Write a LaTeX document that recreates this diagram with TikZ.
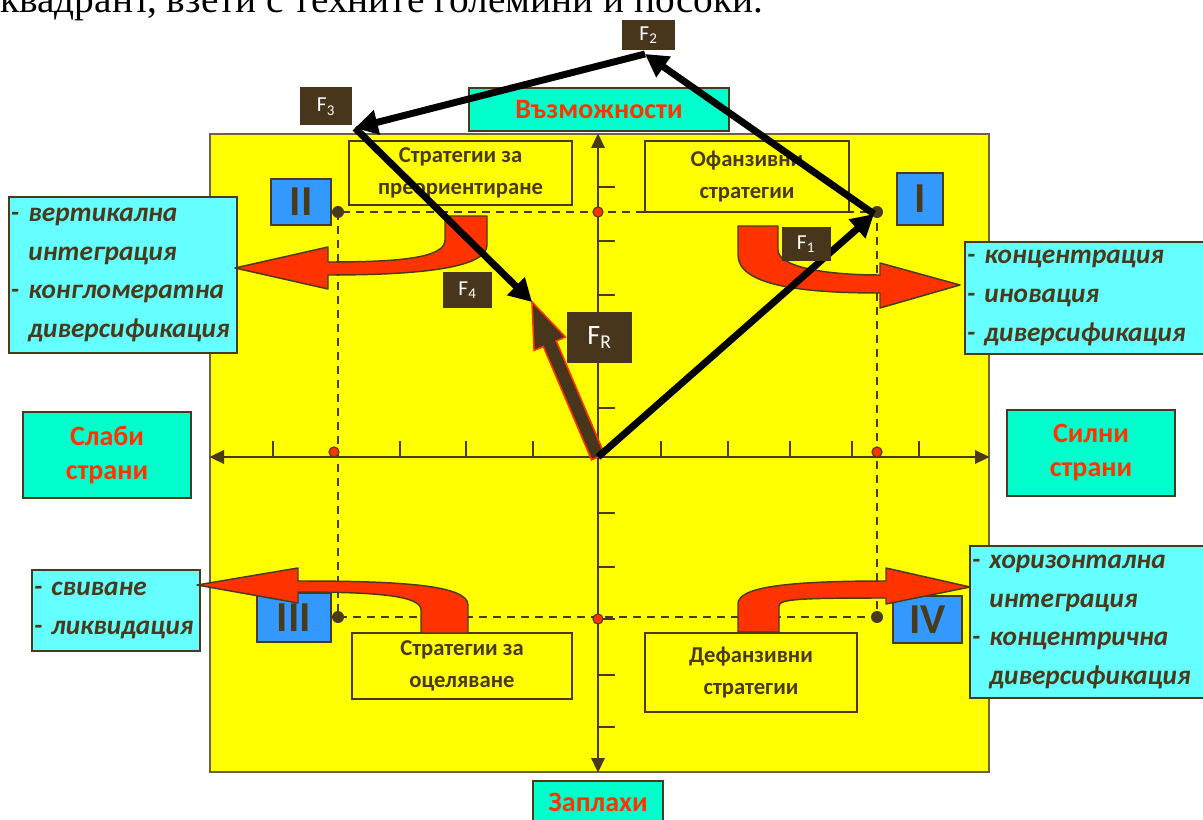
\documentclass[tikz,border=0pt]{standalone}
\usepackage{fontspec}
\setmainfont{Carlito}
\newfontfamily\introfont{Liberation Serif}
\usetikzlibrary{arrows.meta,calc}
\definecolor{ybrown}{HTML}{4A3A1C}
\definecolor{yfield}{HTML}{FFFF00}
\definecolor{aqua}{HTML}{00FFCC}
\definecolor{listcyan}{HTML}{66FFFF}
\definecolor{qblue}{HTML}{3399FF}
\definecolor{sred}{HTML}{FF3300}
\definecolor{fbox}{HTML}{47361C}
\begin{document}
\begin{tikzpicture}[x=0.75pt,y=-0.75pt,
		side/.style={draw=ybrown,fill=aqua,line width=1.5pt,text=sred,align=center,inner sep=0pt,font=\bfseries\fontsize{21}{25.5}\selectfont},
		strat/.style={draw=ybrown,fill=yfield,line width=1.2pt,text=ybrown,align=center,inner sep=0pt,font=\bfseries\fontsize{17}{24.5}\selectfont},
		quad/.style={draw=ybrown,fill=qblue,line width=1.2pt,text=ybrown,inner sep=0pt,font=\bfseries\fontsize{32}{32}\selectfont},
		listbox/.style={draw=ybrown,fill=listcyan,line width=1.5pt,text=ybrown,align=left,inner xsep=1.5pt,inner ysep=0pt,font=\bfseries\itshape\fontsize{20.5}{29}\selectfont},
		force/.style={fill=fbox,text=white,inner sep=0pt,font=\fontsize{16}{16}\selectfont},
		vec/.style={line width=5.2pt,-{Triangle[length=17pt,width=18pt]}},
		turnarrow/.style={fill=sred,draw=ybrown,line width=1.1pt,line join=round},
		axisline/.style={ybrown,line width=1.8pt,{Triangle[length=11pt,width=10pt]}-{Triangle[length=11pt,width=10pt]}},
		tickmark/.style={ybrown,line width=1.5pt},
		quadframe/.style={ybrown,line width=1.8pt,dash pattern=on 6pt off 4.5pt},
		hitdot/.style={fill=sred,draw=ybrown,line width=0.8pt},
		cornerdot/.style={fill=ybrown}]
	\useasboundingbox (0,0) rectangle (1203,820);
	\begin{scope}
		\clip (0,0) rectangle (1203,820);
		\node (intro) [anchor=base west,inner sep=0pt,font=\introfont\fontsize{29.5}{29.5}\selectfont] at (0,13) {квадрант, взети с техните големини и посоки.};
	\end{scope}

	\node (field) [draw=ybrown!80,fill=yfield,line width=1pt,minimum width=584.25pt,minimum height=478.5pt,inner sep=0pt] at (599.5,453) {};

	\coordinate (o) at (598,457);
	\coordinate (qi) at (877,212);
	\coordinate (qii) at (338,212);
	\coordinate (qiii) at (338,617);
	\coordinate (qiv) at (877,617);

	\node (prer) [strat,minimum width=167.25pt,minimum height=48pt] at (460.5,173) {Стратегии за\\преориентиране};
	\node (ofans) [strat,minimum width=153pt,minimum height=53.25pt] at (747,176.5) {Офанзивни\\стратегии};
	\node (surv) [strat,minimum width=165pt,minimum height=49.5pt] at (462,666) {Стратегии за\\оцеляване};
	\node (defs) [strat,minimum width=159pt,minimum height=59.25pt] at (751,672.5) {Дефанзивни\\стратегии};

	\draw[quadframe] (qii) rectangle (qiv);
	\draw[axisline] (field.west |- o) -- (field.east |- o);
	\draw[axisline] (field.north -| o) -- (field.south -| o);
	\foreach \tx in {273,400,466,533,661,728,790,852,919}
		\draw[tickmark] (\tx,457) -- (\tx,441);
	\foreach \ty in {187,241,295,349,408,513,567,619,675,727}
		\draw[tickmark] (598,\ty) -- (615,\ty);

	\foreach \dot in {(598,212),(598,619),(334,452),(877,452)}
		\draw[hitdot] \dot circle[radius=3.8pt];
	\foreach \dot in {qi,qii,qiii,qiv}
		\fill[cornerdot] (\dot) circle[radius=4.5pt];

	\node (qtwo) [quad,minimum width=45pt,minimum height=34.5pt] at (301,202) {II};
	\node (qone) [quad,minimum width=34.5pt,minimum height=39pt] at (920,199) {I};
	\node (qthree) [quad,minimum width=55.5pt,minimum height=36.75pt] at (294,617.5) {III};
	\node (qfour) [quad,minimum width=51.75pt,minimum height=35.25pt] at (927.5,619.5) {IV};

	\node (opp) [side,minimum width=195pt,minimum height=32.25pt] at (599,109.5) {Възможности};
	\node (thr) [side,minimum width=97.5pt,minimum height=31.5pt] at (598,802) {Заплахи};
	\node (weak) [side,minimum width=126pt,minimum height=64.5pt] at (107,455) {Слаби\\страни};
	\node (strong) [side,minimum width=126pt,minimum height=64.5pt] at (1091,453) {Силни\\страни};

	\node (growtwo) [listbox,text width=168pt,minimum height=117pt] at (123,275) {-~вертикална\\\phantom{-~}интеграция\\-~конгломератна\\\phantom{-~}диверсификация};
	\node (growone) [listbox,text width=177.75pt,minimum height=84pt] at (1085.5,298) {-~концентрация\\-~иновация\\-~диверсификация};
	\node (growthree) [listbox,text width=123pt,minimum height=60.75pt] at (116,610.5) {-~свиване\\-~ликвидация};
	\node (growfour) [listbox,text width=174pt,minimum height=114pt] at (1088,622) {-~хоризонтална\\\phantom{-~}интеграция\\-~концентрична\\\phantom{-~}диверсификация};

	\draw[turnarrow] (445,216) -- (487,216) -- (487,245) .. controls (487,268) and (420,275) .. (328,275) -- (328,289) -- (235,268) -- (328,247) -- (328,262) .. controls (400,262) and (445,258) .. (445,240) -- cycle;
	\draw[turnarrow] (738,226) -- (778,226) -- (778,250) .. controls (778,268) and (830,275) .. (880,275) -- (880,263) -- (960,285) -- (880,308) -- (880,293) .. controls (800,293) and (738,285) .. (738,255) -- cycle;
	\draw[turnarrow] (421,633) -- (468,633) -- (468,605) .. controls (468,585) and (400,581) .. (298,581) -- (298,568) -- (197,585) -- (298,603) -- (298,592) .. controls (380,592) and (421,596) .. (421,610) -- cycle;
	\draw[turnarrow] (738,632) -- (779,632) -- (779,606) .. controls (779,599) and (800,598) .. (886,598) -- (886,604) -- (970,587) -- (886,568) -- (886,581) .. controls (780,581) and (738,588) .. (738,604) -- cycle;

	\coordinate (pi) at (874,214);
	\coordinate (pii) at (645,54);
	\coordinate (piii) at (355,128);
	\coordinate (pr) at (532,302);
	\coordinate (frh) at ($(pr)!34pt!(o)$);
	\filldraw[fill=fbox,draw=sred,line width=1.2pt,line join=miter] ($(o)!5.25pt!90:(pr)$) -- ($(frh)!5.25pt!90:(pr)$) -- ($(frh)!12.75pt!90:(pr)$) -- (pr) -- ($(frh)!12.75pt!-90:(pr)$) -- ($(frh)!5.25pt!-90:(pr)$) -- ($(o)!5.25pt!-90:(pr)$) -- cycle;

	\draw[vec] (o) -- (pi);
	\draw[vec] (pi) -- (pii);
	\draw[vec] (pii) -- (piii);
	\draw[vec] (piii) -- (pr);

	\node (fone) [force,minimum width=36.75pt,minimum height=25.5pt] at (806,244) {F\textsubscript{1}};
	\node (ftwo) [force,minimum width=39.75pt,minimum height=22.5pt] at (648.5,35) {F\textsubscript{2}};
	\node (fthree) [force,minimum width=39pt,minimum height=28.5pt] at (326,106.5) {F\textsubscript{3}};
	\node (ffour) [force,minimum width=36.75pt,minimum height=27pt] at (467.5,290) {F\textsubscript{4}};
	\node (fres) [force,minimum width=48.75pt,minimum height=38.25pt,font=\fontsize{21}{21}\selectfont] at (599.5,337.5) {F\textsubscript{R}};
\end{tikzpicture}
\end{document}
